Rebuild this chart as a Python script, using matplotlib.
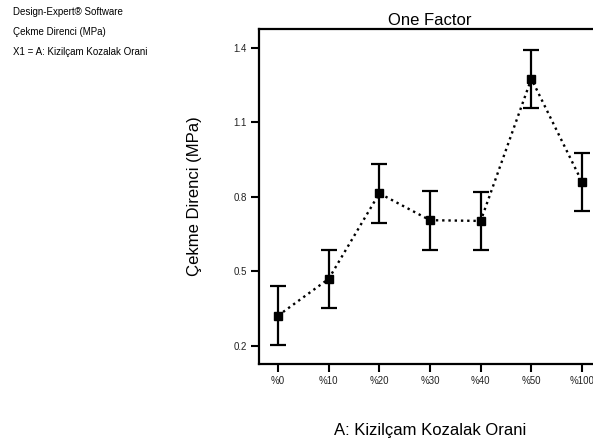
import matplotlib

matplotlib.use("Agg")
import matplotlib.pyplot as plt

plt.rcParams["font.family"] = ["Liberation Sans", "DejaVu Sans"]

# one-factor plot data
levels = ["%0", "%10", "%20", "%30", "%40", "%50", "%100"]
means = [0.322, 0.470, 0.814, 0.706, 0.703, 1.275, 0.860]
err = [0.118, 0.118, 0.118, 0.118, 0.118, 0.116, 0.117]
yticks = [0.2, 0.5, 0.8, 1.1, 1.4]

W, H = 593, 446
fig = plt.figure(figsize=(W / 100, H / 100), dpi=100)
ax = fig.add_axes([259 / W, (H - 364) / H, 342 / W, (364 - 29) / H])

x = list(range(len(levels)))
ax.plot(x, means, linestyle=":", color="black", linewidth=1.7,
        marker="s", markersize=5.5, zorder=3)
ax.errorbar(x, means, yerr=err, fmt="none", ecolor="black",
            elinewidth=1.6, capsize=5.5, capthick=1.6, zorder=2)

ax.set_xlim(-0.375, 6.375)
ax.set_ylim(0.1276, 1.475)
ax.set_xticks(x)
ax.set_xticklabels(levels)
ax.set_yticks(yticks)
ax.set_yticklabels([f"{v:.1f}" for v in yticks])
ax.tick_params(direction="out", length=6, width=1.5, labelsize=7, pad=3,
               labelcolor="#222222")

for side in ["left", "bottom", "top"]:
    ax.spines[side].set_linewidth(1.6)
ax.spines["right"].set_visible(False)

ax.set_title("One Factor", fontsize=12, pad=3)
fig.text(194 / W, 1 - 196 / H, "Çekme Direnci (MPa)", fontsize=12,
         rotation=90, ha="center", va="center")
fig.text(430 / W, 1 - 430 / H, "A: Kizilçam Kozalak Orani", fontsize=12,
         ha="center", va="center")

fig.text(13 / W, 1 - 12 / H, "Design-Expert® Software", fontsize=7, va="center")
fig.text(13 / W, 1 - 32 / H, "Çekme Direnci (MPa)", fontsize=7, va="center")
fig.text(13 / W, 1 - 52 / H, "X1 = A: Kizilçam Kozalak Orani", fontsize=7, va="center")

fig.savefig("out.png", dpi=100)
plt.close(fig)
